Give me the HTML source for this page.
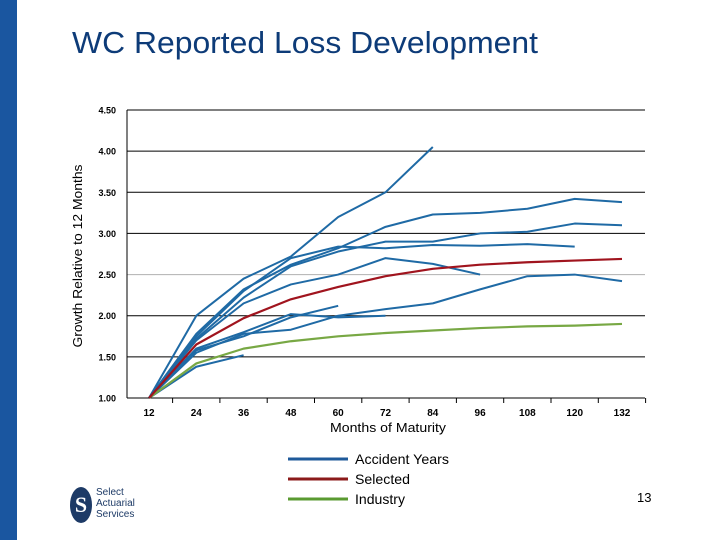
<!DOCTYPE html>
<html><head><meta charset="utf-8"><style>
body{margin:0;width:720px;height:540px;background:#fff;overflow:hidden;font-family:"Liberation Sans",sans-serif;position:relative}
.abs{position:absolute}
</style></head><body>
<div class="abs" style="left:0;top:0;width:17px;height:540px;background:#1a56a0"></div>
<svg class="abs" style="left:0;top:0" width="720" height="540" id="chart"></svg>
<div class="abs" style="left:637px;top:490px;font-size:13px">13</div>
<div class="abs" style="left:70px;top:485px;width:80px;height:40px">
<div style="position:absolute;left:0;top:2px;width:22px;height:36px;border-radius:50%;background:#1d3a66;color:#fff;font:bold 22px 'Liberation Serif',serif;text-align:center;line-height:36px">S</div>
<div style="position:absolute;left:26px;top:2px;font-size:10px;line-height:11px;color:#1d3a66">Select<br>Actuarial<br>Services</div></div>
<script>
const xCats=[12,24,36,48,60,72,84,96,108,120,132];
const yTicks=[1.0,1.5,2.0,2.5,3.0,3.5,4.0,4.5];
const ay1=[1,2.0,2.45,2.72,3.2,3.5,4.05];
const ay2=[1,1.78,2.32,2.62,2.82,3.08,3.23,3.25,3.3,3.42,3.38];
const ay3=[1,1.72,2.22,2.6,2.78,2.9,2.9,3.0,3.02,3.12,3.1];
const ay4=[1,1.75,2.3,2.7,2.84,2.82,2.86,2.85,2.87,2.84];
const ay5=[1,1.7,2.15,2.38,2.5,2.7,2.63,2.5];
const ay6=[1,1.55,1.78,1.83,2.0,2.08,2.15,2.32,2.48,2.5,2.42];
const ay7=[1,1.6,1.8,2.02,1.98,2.0];
const ay8=[1,1.58,1.75,1.98,2.12];
const ay9=[1,1.38,1.52];
const selected=[1,1.65,1.97,2.2,2.35,2.48,2.57,2.62,2.65,2.67,2.69];
const industry=[1,1.42,1.6,1.69,1.75,1.79,1.82,1.85,1.87,1.88,1.9];
const NS='http://www.w3.org/2000/svg',svg=document.getElementById('chart');
const X=m=>149+(m-12)/120*473, Y=v=>398-(v-1)/3.5*288;
function el(t,a,txt){const e=document.createElementNS(NS,t);for(const k in a)e.setAttribute(k,a[k]);if(txt!=null)e.textContent=txt;svg.appendChild(e);return e;}
const title=el('text',{x:72,y:53,'font-size':31,fill:'#0d3b78',textLength:466,lengthAdjust:'spacingAndGlyphs'},'WC Reported Loss Development');


yTicks.forEach(v=>{
 const g=el('line',{x1:127,x2:645,y1:Y(v),y2:Y(v),stroke:v==2.5?'#b0b0b0':'#000','stroke-width':1});
 
 
 const t=el('text',{x:116,y:Y(v)+3.5,'text-anchor':'end','font-size':9,'font-weight':'bold'},v.toFixed(2));
 
 
});
el('line',{x1:127,x2:127,y1:110,y2:398,stroke:'#000'});
xCats.forEach((m,i)=>{
 el('line',{x1:X(m)+23.6,x2:X(m)+23.6,y1:398,y2:403,stroke:'#000'});
 const t=el('text',{x:X(m),y:416,'text-anchor':'middle','font-size':10,'font-weight':'bold'},m);
 
 
});
const xt=el('text',{x:330,y:432,'font-size':13,textLength:116,lengthAdjust:'spacingAndGlyphs'},'Months of Maturity');


const yt=el('text',{x:0,y:0,'text-anchor':'middle','font-size':13,textLength:183,lengthAdjust:'spacingAndGlyphs',transform:'translate(82,256) rotate(-90)'},'Growth Relative to 12 Months');


function line(arr,c,w,name){
 const p=el('polyline',{points:arr.map((v,i)=>X(xCats[i])+','+Y(v)).join(' '),fill:'none',stroke:c,'stroke-width':w,'stroke-linejoin':'round'});
 
 
}
[ay1,ay2,ay3,ay4,ay5,ay6,ay7,ay8,ay9].forEach((a,i)=>line(a,'#1f6aa5',2,'accident-year-line'));
line(industry,'#78a844',2.2,'industry-line');
line(selected,'#a0141e',2.2,'selected-line');
[['Accident Years','#1f5a9a',94],['Selected','#8b1a1a',55],['Industry','#5a9a30',50]].forEach((l,i)=>{
 const y=459+i*20;
 const s=el('line',{x1:288,x2:348,y1:y,y2:y,stroke:l[1],'stroke-width':3});
 
 
 const t=el('text',{x:355,y:y+5,'font-size':14,textLength:l[2],lengthAdjust:'spacingAndGlyphs'},l[0]);
 
 
});
</script>
</body></html>
